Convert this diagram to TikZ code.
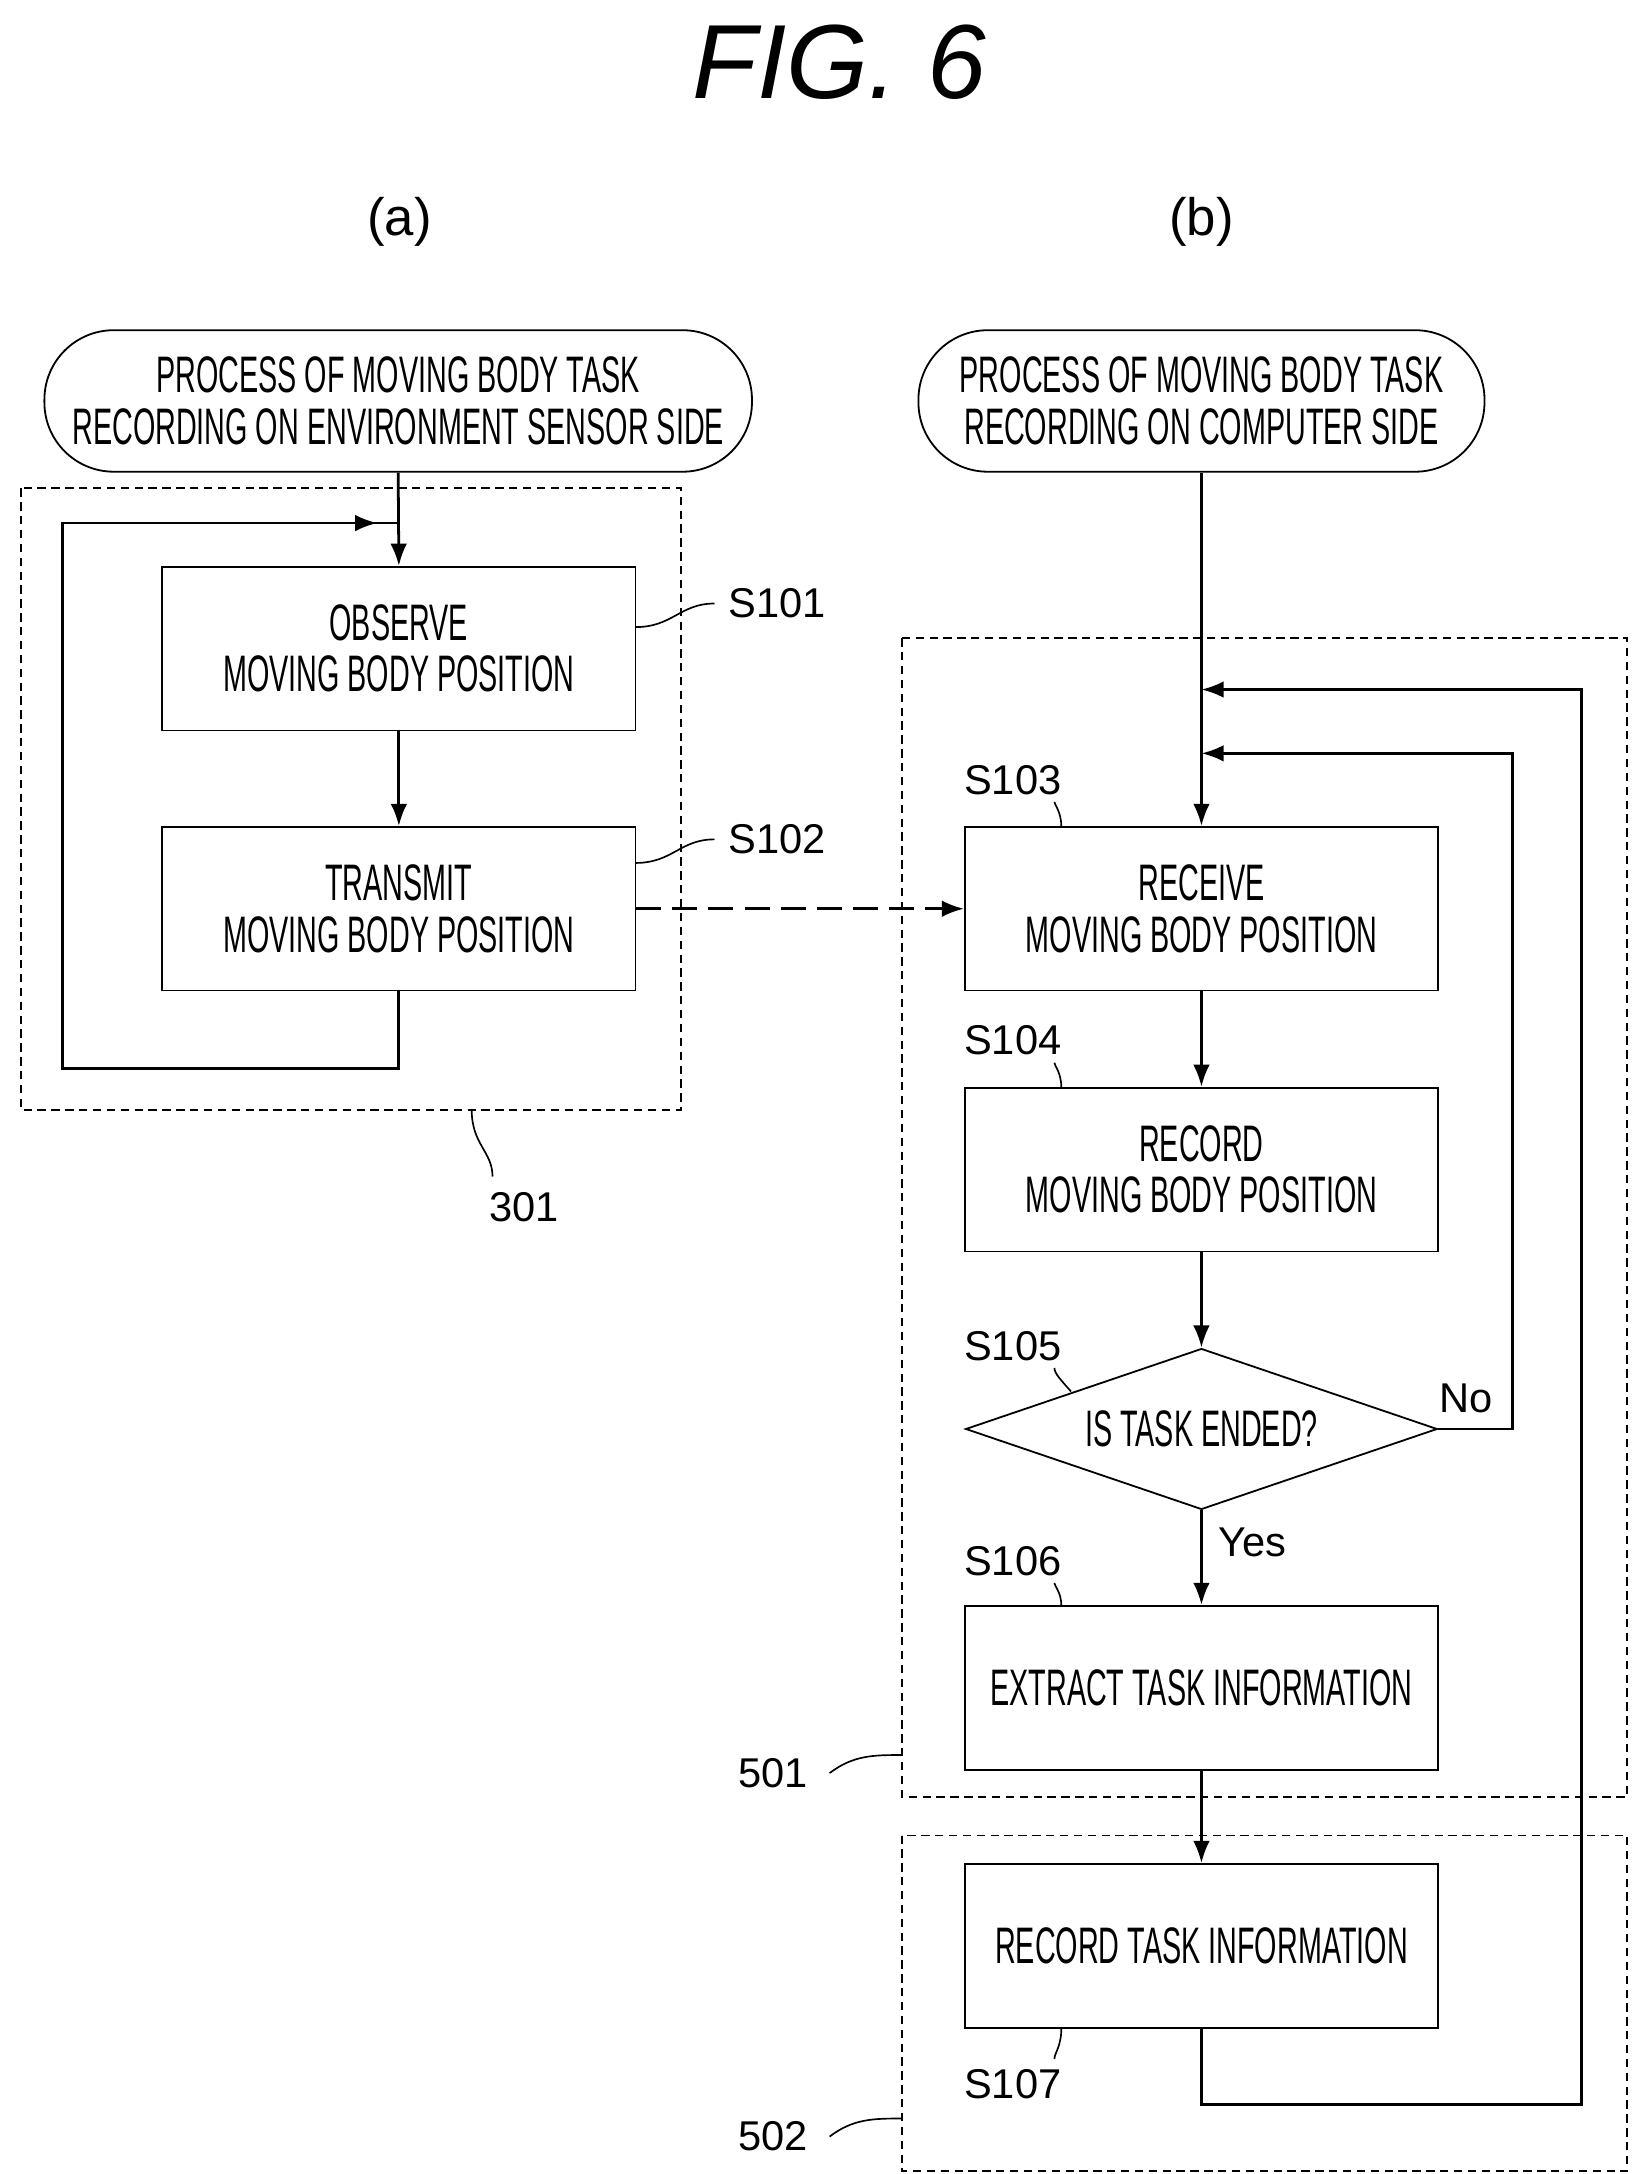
\documentclass[tikz,border=0pt]{standalone}
\usepackage{fontspec}
\setmainfont{Liberation Sans}
\newfontfamily\narrowf[FakeStretch=0.56]{Liberation Sans}
\usetikzlibrary{shapes.geometric,arrows.meta}
\begin{document}
\begin{tikzpicture}[x=1pt,y=-1pt,
  line width=2pt,
  box/.style={draw,line width=1.3pt,minimum width=341pt,minimum height=118pt,align=center,font=\narrowf\fontsize{37}{37}\selectfont},
  term/.style={draw,line width=1.3pt,rounded corners=50pt,align=center,font=\narrowf\fontsize{37}{37}\selectfont},
  grp/.style={draw,line width=1.3pt,dash pattern=on 6pt off 4pt},
  lab/.style={font=\fontsize{30}{32}\selectfont},
  lead/.style={line width=1.2pt},
  arr/.style={-{Latex[length=16pt,width=12pt]}}]
\useasboundingbox (0,0) rectangle (1190,1567);
\node[font=\itshape\fontsize{76}{80}\selectfont] (title) at (605,45) {FIG. 6};
\node[font=\fontsize{38}{40}\selectfont] (pa) at (288,160) {(a)};
\node[font=\fontsize{38}{40}\selectfont] (pb) at (866,160) {(b)};
\node[term,minimum width=510pt,minimum height=102pt] (t1) at (287,289) {PROCESS OF MOVING BODY TASK\\RECORDING ON ENVIRONMENT SENSOR SIDE};
\node[term,minimum width=408pt,minimum height=102pt] (t2) at (866,289) {PROCESS OF MOVING BODY TASK\\RECORDING ON COMPUTER SIDE};
\draw[grp] (15,352) rectangle (491,800);
\draw[grp] (650,460) rectangle (1173,1295);
\draw[grp] (650,1323) rectangle (1173,1565);
\node[box] (s101) at (287.5,467.5) {OBSERVE\\MOVING BODY POSITION};
\node[box] (s102) at (287.5,655) {TRANSMIT\\MOVING BODY POSITION};
\node[box] (s103) at (866,655) {RECEIVE\\MOVING BODY POSITION};
\node[box] (s104) at (866,843) {RECORD\\MOVING BODY POSITION};
\node[draw,line width=1.3pt,diamond,aspect=2.93,minimum width=340pt,minimum height=116pt,inner sep=0pt,font=\narrowf\fontsize{37}{37}\selectfont] (s105) at (866,1030) {IS TASK ENDED?};
\node[box] (s106) at (866,1216.5) {EXTRACT TASK INFORMATION};
\node[box] (s107) at (866,1402.5) {RECORD TASK INFORMATION};
\coordinate (ja) at (287.5,377);
\coordinate (jb) at (866,497);
\coordinate (jc) at (866,543);
\draw[arr] (t1.south) -- (s101.north);
\draw[arr] (s101) -- (s102);
\draw (s102.south) -- (287.5,770) -- (45,770) -- (45,377) -- (ja);
\draw[arr] (45,377) -- (272,377);
\draw[arr,dash pattern=on 18pt off 8pt] (s102.east) -- (s103.west);
\draw[arr] (t2.south) -- (s103.north);
\draw[arr] (s103) -- (s104);
\draw[arr] (s104) -- (s105.north);
\draw[arr] (s105.south) -- (s106.north);
\draw[arr] (s106) -- (s107);
\draw[arr] (s105.east) -- (1090,1030) -- (1090,543) -- (jc);
\draw[arr] (s107.south) -- (866,1517) -- (1140,1517) -- (1140,497) -- (jb);
\node[lab] (ln) at (1057,1008) {No};
\node[lab] (ly) at (903,1112) {Yes};
\node[lab] (l101) at (560,435) {S101};
\node[lab] (l102) at (560,605) {S102};
\node[lab] (l301) at (378,870) {301};
\node[lab] (l103) at (730,562) {S103};
\node[lab] (l104) at (730,750) {S104};
\node[lab] (l105) at (730,970) {S105};
\node[lab] (l106) at (730,1125) {S106};
\node[lab] (l107) at (730,1502) {S107};
\node[lab] (l501) at (557,1278) {501};
\node[lab] (l502) at (557,1540) {502};
\draw[lead] (458,452) .. controls (485,452) and (490,435) .. (515,435);
\draw[lead] (458,622) .. controls (485,622) and (490,605) .. (515,605);
\draw[lead] (340,800) .. controls (340,825) and (355,830) .. (355,848);
\draw[lead] (765,596) .. controls (765,585) and (760,580) .. (760,578);
\draw[lead] (765,784) .. controls (765,773) and (760,768) .. (760,766);
\draw[lead] (772,1003) .. controls (765,995) and (760,990) .. (760,986);
\draw[lead] (765,1157) .. controls (765,1148) and (760,1143) .. (760,1141);
\draw[lead] (765,1462) .. controls (765,1475) and (760,1480) .. (760,1484);
\draw[lead] (598,1278) .. controls (615,1265) and (630,1265) .. (650,1265);
\draw[lead] (598,1540) .. controls (615,1527) and (630,1527) .. (650,1527);
\end{tikzpicture}
\end{document}
